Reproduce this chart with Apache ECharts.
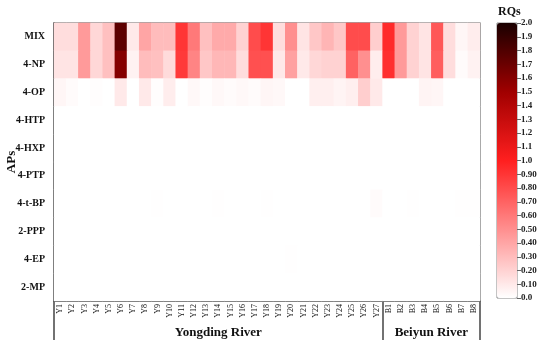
<!DOCTYPE html>
<html>
<head>
<meta charset="utf-8">
<script src="https://cdn.jsdelivr.net/npm/echarts@6/dist/echarts.min.js"></script>
<style>
  html, body { margin: 0; padding: 0; background: #fff; }
  #show { width: 550px; height: 351px; }
</style>
</head>
<body>
<div id="show"></div>
<script>
// sites and compounds
var sites = ['Y1','Y2','Y3','Y4','Y5','Y6','Y7','Y8','Y9','Y10','Y11','Y12','Y13','Y14','Y15','Y16','Y17','Y18','Y19','Y20','Y21','Y22','Y23','Y24','Y25','Y26','Y27',
             'B1','B2','B3','B4','B5','B6','B7','B8'];
var aps = ['MIX','4-NP','4-OP','4-HTP','4-HXP','4-PTP','4-t-BP','2-PPP','4-EP','2-MP'];
var rivers = ['Yongding River', 'Beiyun River'];
var riverBounds = [0, 27, 35];   // start/end index of each river
var riverMids = [13.5, 31];

// RQ values per compound, one per site
var rqMIX  = [0.15,0.15,0.45,0.18,0.28,1.75,0.10,0.40,0.30,0.30,0.90,0.60,0.28,0.38,0.38,0.20,0.80,0.90,0.15,0.50,0.12,0.25,0.33,0.25,0.80,0.80,0.22, 0.95,0.45,0.20,0.12,0.75,0.15,0.04,0.08];
var rqNP   = [0.12,0.12,0.45,0.18,0.28,1.60,0.06,0.30,0.28,0.16,0.88,0.55,0.25,0.32,0.32,0.15,0.78,0.78,0.10,0.42,0.10,0.18,0.20,0.20,0.70,0.50,0.08, 0.93,0.45,0.20,0.12,0.72,0.15,0.02,0.06];
var rqOP   = [0.04,0.02,0.00,0.01,0.00,0.10,0.00,0.10,0.01,0.08,0.00,0.03,0.01,0.03,0.02,0.03,0.02,0.04,0.03,0.00,0.00,0.07,0.07,0.05,0.07,0.22,0.10, 0.00,0.00,0.00,0.05,0.04,0.00,0.00,0.00];
var rqHTP  = [0,0,0,0,0,0,0,0,0,0,0,0,0,0,0,0,0,0,0,0,0,0,0,0,0,0,0, 0,0,0,0,0,0,0,0];
var rqHXP  = [0,0,0,0,0,0,0,0,0,0,0,0,0,0,0,0,0,0,0,0,0,0,0,0,0,0,0, 0,0,0,0,0,0,0,0];
var rqPTP  = [0,0,0,0,0,0,0,0,0,0,0,0,0,0,0,0,0,0,0,0,0,0,0,0,0,0,0, 0,0,0,0,0,0,0,0];
var rqTBP  = [0,0,0,0,0,0,0,0,0.006,0,0,0,0,0.005,0,0,0,0.005,0,0,0,0,0,0,0,0,0.02, 0,0,0.006,0,0,0,0.006,0.006];
var rqPPP  = [0,0,0,0,0,0,0,0,0,0,0,0,0,0,0,0,0,0,0,0,0,0,0,0,0,0,0, 0,0,0,0,0,0,0,0];
var rqEP   = [0,0,0,0,0,0,0,0,0,0,0,0,0,0,0,0,0,0,0,0.004,0,0,0,0,0,0,0, 0,0,0,0,0,0,0,0];
var rqMP   = [0,0,0,0,0,0,0,0,0,0,0,0,0,0,0,0,0,0,0,0,0,0,0,0,0,0,0, 0,0,0,0,0,0,0,0];
var rqRows = [rqMIX, rqNP, rqOP, rqHTP, rqHXP, rqPTP, rqTBP, rqPPP, rqEP, rqMP];

var serif = '"Liberation Serif", "DejaVu Serif", serif';
var axisCol = '#444';

var heat = [];
for (var r = 0; r < aps.length; r++) {
    for (var c = 0; c < sites.length; c++) {
        heat.push([c, r, rqRows[r][c]]);
    }
}

var myChart = echarts.init(document.getElementById('show'));
var option = {
    animation: false,
    title: {
        text: 'RQs', left: 493, top: 1,
        textStyle: { fontFamily: serif, fontWeight: 'bold', fontSize: 12, color: '#111' }
    },
    grid: [
        { left: 54, top: 23, width: 426, height: 278, outerBoundsMode: 'none', containLabel: false,
          show: true, borderColor: axisCol, borderWidth: 1.2, backgroundColor: 'transparent' },
        { left: 497, top: 23, width: 20, height: 275, outerBoundsMode: 'none', containLabel: false,
          show: true, borderColor: '#888', borderWidth: 1, backgroundColor: 'transparent' }
    ],
    xAxis: [
        {
            type: 'category', gridIndex: 0, data: sites,
            axisLine: { lineStyle: { color: axisCol, width: 1.5 } },
            axisTick: { alignWithLabel: true, length: 4, lineStyle: { color: axisCol } },
            axisLabel: { rotate: 90, margin: 3, fontSize: 8, fontFamily: serif, color: '#111', interval: 0 },
            splitLine: { show: false }
        },
        {
            type: 'value', gridIndex: 0, min: 0, max: 35, position: 'bottom',
            axisLine: { show: false },
            splitLine: { show: false },
            axisTick: { show: true, inside: false, length: 39, customValues: riverBounds, lineStyle: { color: axisCol, width: 1.5 } },
            axisLabel: {
                customValues: riverMids, margin: 25,
                fontFamily: serif, fontWeight: 'bold', fontSize: 13, color: '#111',
                formatter: function (v) { return v < riverBounds[1] ? rivers[0] : rivers[1]; }
            }
        },
        {
            type: 'category', gridIndex: 1, data: [''],
            axisLine: { show: false }, axisTick: { show: false }, axisLabel: { show: false }
        }
    ],
    yAxis: [
        {
            type: 'category', gridIndex: 0, data: aps, inverse: true,
            name: 'APs', nameLocation: 'middle', nameGap: 36, nameMoveOverlap: false,
            nameTextStyle: { fontFamily: serif, fontWeight: 'bold', fontSize: 13, color: '#111' },
            axisLine: { lineStyle: { color: axisCol, width: 1.5 } },
            axisTick: { alignWithLabel: true, length: 5, lineStyle: { color: axisCol } },
            axisLabel: { margin: 9, fontFamily: serif, fontWeight: 'bold', fontSize: 10, color: '#111' },
            splitLine: { show: false }
        },
        {
            type: 'value', gridIndex: 1, min: 0, max: 2, interval: 0.1, position: 'right',
            axisLine: { show: false },
            splitLine: { show: false },
            axisTick: { show: true, length: 4, lineStyle: { color: '#666' } },
            axisLabel: {
                margin: 4, fontFamily: serif, fontWeight: 'bold', fontSize: 9, color: '#222',
                formatter: function (v) {
                    return (v > 0.05 && v < 0.95) ? v.toFixed(2) : v.toFixed(1);
                }
            }
        }
    ],
    visualMap: {
        type: 'continuous', min: 0, max: 2, seriesIndex: 0,
        left: 497, top: 23, itemWidth: 20, itemHeight: 275, padding: 0,
        calculable: false, text: null, showLabel: false,
        inRange: { color: ['#ffffff', '#ff8f8f', '#ff1f1f', '#a00000', '#1a0000'] }
    },
    series: [
        {
            name: 'RQs', type: 'heatmap', xAxisIndex: 0, yAxisIndex: 0,
            data: heat,
            itemStyle: { borderWidth: 0 },
            emphasis: { disabled: true }
        }
    ]
};
myChart.setOption(option);
</script>
</body>
</html>
